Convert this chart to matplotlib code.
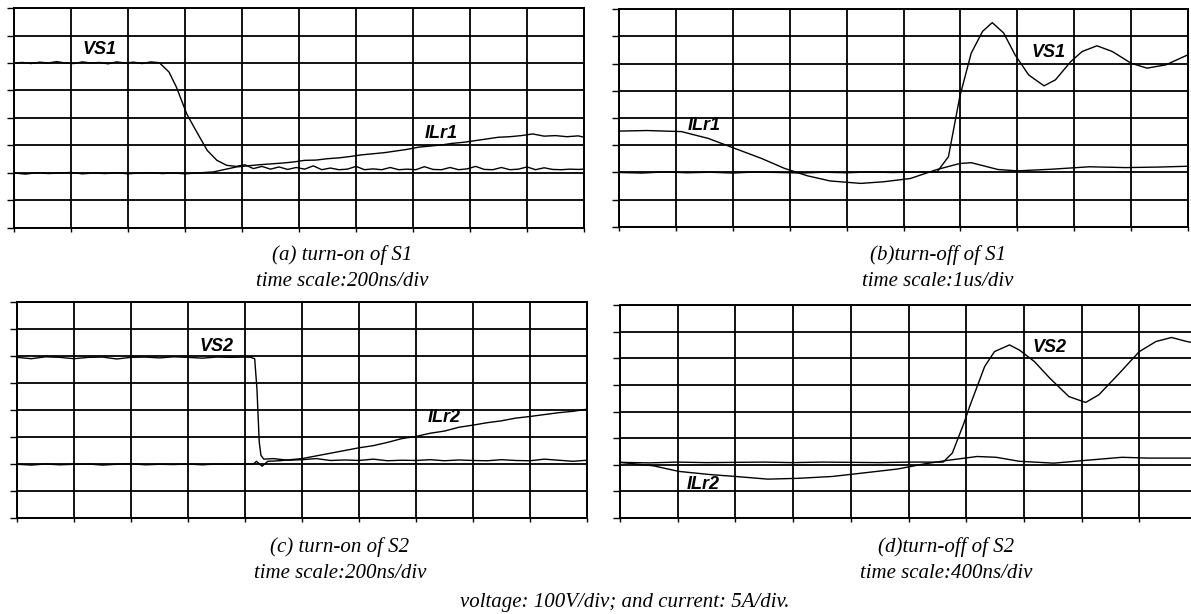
import matplotlib.pyplot as plt

# scope traces in divisions (x: 0..10, y: 0..8 from the bottom)
# (a) turn-on of S1
a_vs_x = [0, 0.15, 0.3, 0.45, 0.6, 0.75, 0.9, 1.05, 1.2, 1.35, 1.5, 1.65, 1.8, 1.95, 2.1, 2.25, 2.4, 2.55,
          2.72, 2.85, 3.03, 3.19, 3.39, 3.56, 3.73, 3.9,
          4.05, 4.2, 4.35, 4.5, 4.65, 4.8, 4.95, 5.1, 5.25, 5.4, 5.55, 5.7, 5.85, 6.0, 6.15, 6.3, 6.45, 6.6,
          6.75, 6.9, 7.05, 7.2, 7.35, 7.5, 7.65, 7.8, 7.95, 8.1, 8.25, 8.4, 8.55, 8.7, 8.85, 9.0, 9.15, 9.3,
          9.45, 9.6, 9.75, 9.9, 10]
a_vs_y = [6.0, 6.02, 5.98, 6.03, 6.0, 6.05, 6.0, 5.98, 6.04, 6.0, 6.02, 5.97, 6.04, 6.0, 6.03, 5.98, 6.04, 6.01,
          5.67, 5.12, 4.15, 3.55, 2.82, 2.46, 2.28, 2.24,
          2.3, 2.16, 2.24, 2.14, 2.22, 2.13, 2.2, 2.14, 2.26, 2.12, 2.18, 2.12, 2.14, 2.24, 2.12, 2.15, 2.12, 2.2,
          2.12, 2.14, 2.12, 2.23, 2.13, 2.12, 2.2, 2.12, 2.15, 2.24, 2.13, 2.12, 2.2, 2.12, 2.14, 2.22, 2.12, 2.19,
          2.13, 2.12, 2.14, 2.13, 2.14]
a_il_x = [0, 0.2, 0.4, 0.6, 0.8, 1.0, 1.2, 1.4, 1.6, 1.8, 2.0, 2.2, 2.4, 2.6, 2.8, 3.0, 3.5, 3.9,
          4.1, 4.3, 4.5, 4.7, 4.9, 5.1, 5.3, 5.5, 5.7, 5.9, 6.1, 6.3, 6.5, 6.7, 6.9, 7.1, 7.3, 7.5, 7.7, 7.9,
          8.1, 8.3, 8.5, 8.7, 8.9, 9.1, 9.3, 9.5, 9.7, 9.9, 10]
a_il_y = [2.0, 1.96, 2.01, 1.98, 2.0, 2.02, 1.97, 2.0, 1.98, 2.01, 1.97, 2.0, 2.01, 1.98, 2.0, 1.97, 2.04, 2.22,
          2.26, 2.3, 2.33, 2.36, 2.4, 2.46, 2.47, 2.52, 2.55, 2.6, 2.66, 2.7, 2.74, 2.8, 2.86, 2.94, 2.98, 3.02,
          3.08, 3.12, 3.18, 3.24, 3.3, 3.32, 3.36, 3.42, 3.34, 3.36, 3.32, 3.35, 3.3]

# (b) turn-off of S1
b_vs_x = [0, 0.4, 0.8, 1.2, 1.6, 2.0, 2.4, 2.8, 3.2, 3.6, 4.0, 4.4, 4.8, 5.2, 5.59, 5.79, 5.99, 6.19, 6.39,
          6.56, 6.76, 6.96, 7.2, 7.47, 7.67, 7.94, 8.14, 8.4, 8.67, 9.0, 9.28, 9.61, 10]
b_vs_y = [2.0, 1.98, 2.02, 1.99, 2.01, 1.98, 2.02, 2.0, 1.98, 2.01, 1.99, 2.02, 2.0, 2.01, 2.02, 2.58, 4.79, 6.38,
          7.18, 7.5, 7.12, 6.32, 5.58, 5.18, 5.4, 6.07, 6.44, 6.65, 6.44, 6.01, 5.83, 5.95, 6.32]
b_il_x = [0, 0.5, 1.1, 1.57, 2.04, 2.5, 2.91, 3.31, 3.71, 4.25, 4.65, 5.12, 5.59, 5.99, 6.19, 6.66, 7.0, 7.6,
          8.27, 8.9, 9.5, 10]
b_il_y = [3.52, 3.54, 3.5, 3.25, 2.88, 2.52, 2.15, 1.88, 1.69, 1.6, 1.66, 1.78, 2.11, 2.33, 2.36, 2.11, 2.06, 2.12,
          2.21, 2.18, 2.2, 2.23]

# (c) turn-on of S2
c_vs_x = [0, 0.25, 0.5, 0.75, 1.0, 1.25, 1.5, 1.75, 2.0, 2.25, 2.5, 2.75, 3.0, 3.25, 3.5, 3.75, 4.0,
          4.1, 4.17, 4.21, 4.25, 4.28, 4.33,
          4.5, 4.75, 5.0, 5.25, 5.5, 5.75, 6.0, 6.25, 6.5, 6.75, 7.0, 7.25, 7.5, 7.75, 8.0, 8.25, 8.5, 8.75,
          9.0, 9.25, 9.5, 9.75, 10]
c_vs_y = [5.95, 5.9, 5.97, 5.95, 5.9, 5.95, 5.96, 5.89, 5.95, 5.96, 5.93, 5.97, 5.95, 5.92, 5.96, 5.95, 5.96,
          5.95, 5.9, 4.76, 2.81, 2.32, 2.18,
          2.2, 2.14, 2.16, 2.2, 2.13, 2.15, 2.13, 2.18, 2.12, 2.14, 2.13, 2.16, 2.12, 2.15, 2.13, 2.12, 2.16, 2.13,
          2.12, 2.18, 2.14, 2.1, 2.14]
c_il_x = [0, 0.25, 0.5, 0.75, 1.0, 1.25, 1.5, 1.75, 2.0, 2.25, 2.5, 2.75, 3.0, 3.25, 3.5, 3.75, 4.0,
          4.15, 4.2, 4.3, 4.4, 4.6, 4.8,
          5.0, 5.25, 5.5, 5.75, 6.0, 6.25, 6.5, 6.75, 7.0, 7.25, 7.5, 7.75, 8.0, 8.25, 8.5, 8.75, 9.0, 9.25,
          9.5, 9.75, 10]
c_il_y = [1.99, 1.96, 2.0, 1.97, 1.99, 2.0, 1.96, 1.99, 2.01, 1.97, 1.99, 1.98, 2.0, 1.97, 2.0, 1.99, 1.99,
          2.0, 2.1, 1.92, 2.1, 2.12, 2.16,
          2.2, 2.3, 2.4, 2.5, 2.6, 2.68, 2.8, 2.94, 3.02, 3.14, 3.22, 3.36, 3.44, 3.53, 3.6, 3.7, 3.76, 3.83,
          3.9, 3.95, 4.03]

# (d) turn-off of S2
d_vs_x = [0, 0.5, 1.0, 1.5, 2.0, 2.5, 3.0, 3.5, 4.0, 4.5, 5.0, 5.6, 5.76, 5.96, 6.06, 6.19, 6.32, 6.49, 6.75,
          6.92, 7.18, 7.45, 7.78, 8.07, 8.3, 8.63, 9.0, 9.29, 9.56, 9.82, 10]
d_vs_y = [2.09, 2.07, 2.1, 2.08, 2.09, 2.1, 2.08, 2.1, 2.09, 2.08, 2.1, 2.1, 2.44, 3.56, 4.19, 4.94, 5.69, 6.25,
          6.5, 6.31, 5.88, 5.25, 4.56, 4.34, 4.63, 5.38, 6.25, 6.63, 6.78, 6.63, 6.56]
d_il_x = [0, 0.58, 1.02, 1.57, 2.0, 2.56, 3.09, 3.68, 4.21, 4.81, 5.27, 5.66, 6.19, 6.52, 6.92, 7.52, 8.04,
          8.7, 9.16, 10]
d_il_y = [2.09, 1.96, 1.75, 1.63, 1.56, 1.46, 1.49, 1.56, 1.69, 1.84, 2.03, 2.16, 2.31, 2.28, 2.13, 2.06, 2.16,
          2.28, 2.25, 2.25]

captions = ["(a) turn-on of S1\ntime scale:200ns/div", "(b)turn-off of S1\ntime scale:1us/div",
            "(c) turn-on of S2\ntime scale:200ns/div", "(d)turn-off of S2\ntime scale:400ns/div"]
footer = "voltage: 100V/div; and current: 5A/div."

W, H = 1191, 614
fig = plt.figure(figsize=(W / 100, H / 100), dpi=100)


def scope(box, vs_x, vs_y, il_x, il_y, vlabel, vpos, ilabel, ipos):
    x0, y0, x1, y1 = box  # pixel box of the screen
    ax = fig.add_axes([x0 / W, 1 - y1 / H, (x1 - x0) / W, (y1 - y0) / H])
    ax.set_xlim(0, 10)
    ax.set_ylim(0, 8)
    ax.set_xticks(range(11))
    ax.set_yticks(range(9))
    ax.set_xticklabels([])
    ax.set_yticklabels([])
    ax.tick_params(axis='y', direction='out', length=5, width=1)
    ax.tick_params(axis='x', direction='out', length=3, width=1)
    ax.grid(True, color='black', lw=1.3)
    for s in ax.spines.values():
        s.set_linewidth(1.4)
    ax.plot(vs_x, vs_y, color='black', lw=1.0)
    ax.plot(il_x, il_y, color='black', lw=1.0)
    kw = dict(fontsize=13, fontstyle='italic', fontweight='bold', family='Liberation Sans',
              ha='center', va='center')
    ax.text(vpos[0], vpos[1], vlabel, **kw)
    ax.text(ipos[0], ipos[1], ilabel, **kw)
    return ax


scope((14, 8, 584, 228), a_vs_x, a_vs_y, a_il_x, a_il_y, 'VS1', (1.5, 6.5), 'ILr1', (7.5, 3.45))
scope((619, 9, 1188, 227), b_vs_x, b_vs_y, b_il_x, b_il_y, 'VS1', (7.55, 6.4), 'ILr1', (1.5, 3.72))
scope((17, 302, 587, 518), c_vs_x, c_vs_y, c_il_x, c_il_y, 'VS2', (3.5, 6.35), 'ILr2', (7.5, 3.72))
scope((620, 305, 1197, 518), d_vs_x, d_vs_y, d_il_x, d_il_y, 'VS2', (7.45, 6.4), 'ILr2', (1.45, 1.25))

tkw = dict(family='Liberation Serif', fontstyle='italic', fontsize=15, ha='center', va='center',
           linespacing=1.45)
fig.text(342 / W, 1 - 268 / H, captions[0], **tkw)
fig.text(938 / W, 1 - 268 / H, captions[1], **tkw)
fig.text(340 / W, 1 - 560 / H, captions[2], **tkw)
fig.text(946 / W, 1 - 560 / H, captions[3], **tkw)
fig.text(625 / W, 1 - 603 / H, footer, **tkw)

fig.savefig("out.png", dpi=100)
